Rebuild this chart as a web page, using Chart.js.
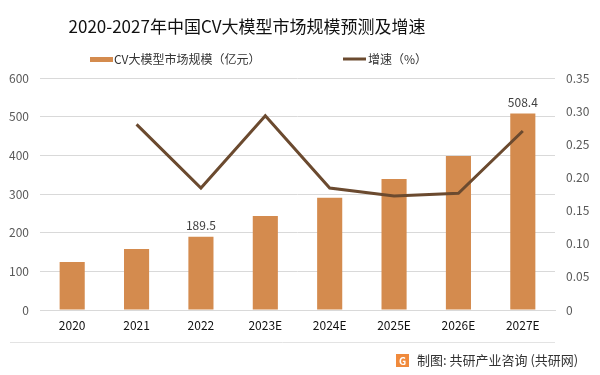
<!DOCTYPE html>
<html>
<head>
<meta charset="utf-8">
<script src="https://cdn.jsdelivr.net/npm/chart.js@4"></script>
<style>
    html, body { margin: 0; padding: 0; background: #fff; }
    #wrap { width: 600px; height: 375px; position: relative; }
</style>
</head>
<body>
<div id="wrap"><canvas id="cvChart"></canvas></div>
<script>
const years = ["2020", "2021", "2022", "2023E", "2024E", "2025E", "2026E", "2027E"];
const marketSize = [124, 158, 189.5, 243, 290, 339, 398, 508.4];
const growthRate = [null, 0.28, 0.184, 0.293, 0.184, 0.172, 0.176, 0.27];
const leftTicks = [0, 100, 200, 300, 400, 500, 600];
const rightTicks = [0, 0.05, 0.1, 0.15, 0.2, 0.25, 0.3, 0.35];
const labelledYears = ["2022", "2027E"];

const TITLE = "2020-2027年中国CV大模型市场规模预测及增速";
const BAR_NAME = "CV大模型市场规模（亿元）";
const LINE_NAME = "增速（%）";
const SOURCE = "制图: 共研产业咨询 (共研网)";

const FONT = "'Noto Sans CJK SC', 'Noto Sans', sans-serif";
const BAR_COLOR = "#d48b4e";
const LINE_COLOR = "#6b4a2f";

/* ================= EXTRA DRAWING ================= */
const decor = {
    id: "decor",
    afterDatasetsDraw(chart) {
        const ctx = chart.ctx;
        ctx.save();

        // title
        ctx.fillStyle = "#111";
        ctx.font = "17px " + FONT;
        ctx.textAlign = "center";
        ctx.textBaseline = "middle";
        ctx.fillText(TITLE, 247, 27);

        // legend
        ctx.font = "12px " + FONT;
        ctx.textAlign = "left";
        ctx.fillStyle = BAR_COLOR;
        ctx.fillRect(90, 57, 23, 5);
        ctx.fillStyle = "#333";
        ctx.fillText(BAR_NAME, 114, 59);
        ctx.strokeStyle = LINE_COLOR;
        ctx.lineWidth = 3;
        ctx.beginPath();
        ctx.moveTo(343, 59);
        ctx.lineTo(366, 59);
        ctx.stroke();
        ctx.fillText(LINE_NAME, 368, 59);

        // value labels
        const meta = chart.getDatasetMeta(1);
        ctx.fillStyle = "#404040";
        ctx.textAlign = "center";
        ctx.textBaseline = "bottom";
        meta.data.forEach((bar, i) => {
            if (labelledYears.includes(years[i])) {
                ctx.fillText(String(marketSize[i]), bar.x, bar.y - 5);
            }
        });

        // separator + source
        ctx.strokeStyle = "#e3e3e3";
        ctx.lineWidth = 1;
        ctx.beginPath();
        ctx.moveTo(10, 342.5);
        ctx.lineTo(555, 342.5);
        ctx.stroke();

        ctx.fillStyle = "#f08a3c";
        ctx.fillRect(396, 354, 13, 13);
        ctx.fillStyle = "#fff";
        ctx.font = "bold 10px " + FONT;
        ctx.textBaseline = "middle";
        ctx.fillText("G", 402.5, 361);

        ctx.fillStyle = "#333";
        ctx.font = "13px " + FONT;
        ctx.textAlign = "left";
        ctx.fillText(SOURCE, 417, 360);

        ctx.restore();
    }
};

new Chart(document.getElementById("cvChart"), {
    data: {
        labels: years,
        datasets: [
            {
                type: "line",
                label: LINE_NAME,
                data: growthRate,
                yAxisID: "yR",
                borderColor: LINE_COLOR,
                borderWidth: 3,
                pointRadius: 0,
                tension: 0,
                order: 0
            },
            {
                type: "bar",
                label: BAR_NAME,
                data: marketSize,
                yAxisID: "yL",
                backgroundColor: BAR_COLOR,
                categoryPercentage: 1,
                barPercentage: 0.39,
                order: 1
            }
        ]
    },
    options: {
        responsive: true,
        maintainAspectRatio: false,
        animation: false,
        layout: { padding: { top: 78, bottom: 33, left: 0, right: 0 } },
        plugins: {
            legend: { display: false },
            title: { display: false },
            tooltip: { enabled: false }
        },
        scales: {
            x: {
                grid: { display: false, drawTicks: false },
                border: { color: "#d9d9d9" },
                ticks: { color: "#111", font: { family: FONT, size: 12 }, padding: 8 },
                afterFit: s => { s.height = 32; }
            },
            yL: {
                position: "left",
                min: 0,
                max: 600,
                afterBuildTicks: s => { s.ticks = leftTicks.map(v => ({ value: v })); },
                grid: { color: "#d9d9d9", drawTicks: false },
                border: { display: false },
                ticks: { color: "#595959", font: { family: FONT, size: 12 }, padding: 11 },
                afterFit: s => { s.width = 40; }
            },
            yR: {
                position: "right",
                min: 0,
                max: 0.35,
                afterBuildTicks: s => { s.ticks = rightTicks.map(v => ({ value: v })); },
                grid: { display: false, drawTicks: false },
                border: { display: false },
                ticks: { color: "#595959", font: { family: FONT, size: 12 }, padding: 11 },
                afterFit: s => { s.width = 45; }
            }
        }
    },
    plugins: [decor]
});
</script>
</body>
</html>
